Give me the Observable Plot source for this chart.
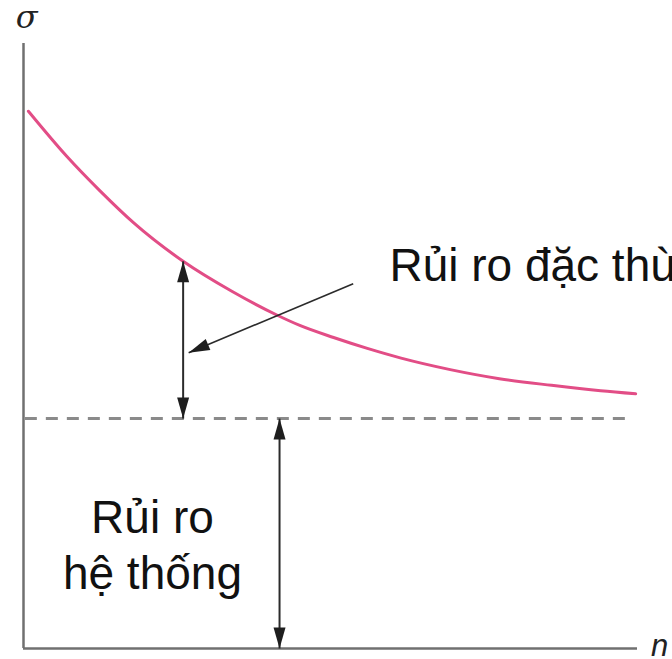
<!DOCTYPE html>
<html>
<head>
<meta charset="utf-8">
<script src="https://cdn.jsdelivr.net/npm/d3@7"></script>
<script src="https://cdn.jsdelivr.net/npm/@observablehq/plot@0.6"></script>
<style>
  html, body { margin: 0; padding: 0; background: #fff; overflow: hidden; }
</style>
</head>
<body>
<div id="chart"></div>
<script>
// Curve: total risk (σ) versus number of stocks (n)
const nValues = [0.8, 7, 12.5, 18, 26, 34, 41.5, 45, 50.5, 56, 61.5, 69.5, 77.5, 86, 94, 99.7];
const sigmaValues = [88.8, 81.4, 75.6, 70.3, 64.0, 59.0, 55.0, 53.4, 51.4, 49.6, 48.0, 46.1, 44.6, 43.5, 42.6, 42.1];

// Systematic (market) risk level
const systematicLevel = 38;

// Arrows (from -> to), double-headed flags
const arrowFromN = [26, 41.7, 53.7];
const arrowFromS = [38, 0, 60.3];
const arrowToN = [26, 41.7, 26.9];
const arrowToS = [64.0, 38, 48.9];
const arrowDouble = [true, true, false];
const arrowWidth = [2, 2, 1.6];

// Labels
const labelTexts = ["Rủi ro đặc thù", "Rủi ro\nhệ thống"];
const labelN = [59.6, 21.0];
const labelS = [60.7, 9.8];
const labelAnchor = ["start", "middle"];
const axisLabelTexts = ["σ", "n"];
const axisLabelN = [0.5, 103.6];
const axisLabelS = [102.6, -1.2];

const W = 672, H = 659;
const margins = {left: 23, right: 35, top: 43, bottom: 11};
const xDomain = [0, 100], yDomain = [0, 100];

const curve = nValues.map((n, i) => ({n, s: sigmaValues[i]}));
const arrows = arrowFromN.map((_, i) => ({
  n1: arrowFromN[i], s1: arrowFromS[i], n2: arrowToN[i], s2: arrowToS[i],
  double: arrowDouble[i], w: arrowWidth[i]
}));

// pixel scales (same as the plot's) to orient arrowheads
const xs = Plot.scale({x: {domain: xDomain, range: [margins.left, W - margins.right]}});
const ys = Plot.scale({y: {domain: yDomain, range: [H - margins.bottom, margins.top]}});
function angle(fromN, fromS, toN, toS) {
  const dx = xs.apply(toN) - xs.apply(fromN);
  const dy = ys.apply(toS) - ys.apply(fromS);
  return Math.atan2(dx, -dy) * 180 / Math.PI;
}
const heads = [];
for (const a of arrows) {
  heads.push({n: a.n2, s: a.s2, rot: angle(a.n1, a.s1, a.n2, a.s2)});
  if (a.double) heads.push({n: a.n1, s: a.s1, rot: angle(a.n2, a.s2, a.n1, a.s1)});
}

// narrow filled arrowhead, tip at the origin, pointing up
const headSymbol = {
  draw(context) {
    context.moveTo(0, 0);
    context.lineTo(6, 21);
    context.lineTo(-6, 21);
    context.closePath();
  }
};

const labels = labelTexts.map((t, i) => ({t, n: labelN[i], s: labelS[i], anchor: labelAnchor[i]}));
const axisLabels = axisLabelTexts.map((t, i) => ({t, n: axisLabelN[i], s: axisLabelS[i]}));

const chart = Plot.plot({
  width: W,
  height: H,
  marginLeft: margins.left,
  marginRight: margins.right,
  marginTop: margins.top,
  marginBottom: margins.bottom,
  x: {domain: xDomain, axis: null},
  y: {domain: yDomain, axis: null},
  style: {background: "#fff", overflow: "visible"},
  marks: [
    // axes
    Plot.ruleX([0], {y1: 0, y2: 100, stroke: "#707070", strokeWidth: 2.5}),
    Plot.ruleY([0], {x1: 0, x2: 100, stroke: "#707070", strokeWidth: 2.5}),
    // systematic risk dashed line
    Plot.ruleY([systematicLevel], {x1: 0.3, x2: 99.4, stroke: "#8a8a8a", strokeWidth: 3, strokeDasharray: "12,9"}),
    // total risk curve
    Plot.line(curve, {x: "n", y: "s", curve: "monotone-x", stroke: "#e24d86", strokeWidth: 3}),
    // arrows
    Plot.link(arrows, {x1: "n1", y1: "s1", x2: "n2", y2: "s2", stroke: "#2b2b2b", strokeWidth: "w"}),
    Plot.dot(heads, {x: "n", y: "s", rotate: "rot", symbol: headSymbol, fill: "#1e1e1e", stroke: "none", r: 5}),
    // labels
    Plot.text(labels.filter(d => d.anchor === "start"), {
      x: "n", y: "s", text: "t", textAnchor: "start", lineAnchor: "bottom",
      fontSize: 46, fontFamily: "Liberation Sans, Arial, sans-serif", fill: "#111"
    }),
    Plot.text(labels.filter(d => d.anchor === "middle"), {
      x: "n", y: "s", text: "t", textAnchor: "middle", lineAnchor: "bottom", lineHeight: 1.22,
      fontSize: 46, fontFamily: "Liberation Sans, Arial, sans-serif", fill: "#111"
    }),
    Plot.text(axisLabels.slice(0, 1), {
      x: "n", y: "s", text: "t", textAnchor: "middle", lineAnchor: "bottom",
      fontSize: 32, fontStyle: "italic", fontFamily: "DejaVu Serif, Liberation Serif, serif", fill: "#222"
    }),
    Plot.text(axisLabels.slice(1), {
      x: "n", y: "s", text: "t", textAnchor: "middle", lineAnchor: "bottom",
      fontSize: 31, fontStyle: "italic", fontFamily: "Liberation Sans, Arial, sans-serif", fill: "#222"
    })
  ]
});
document.getElementById("chart").appendChild(chart);
</script>
</body>
</html>
